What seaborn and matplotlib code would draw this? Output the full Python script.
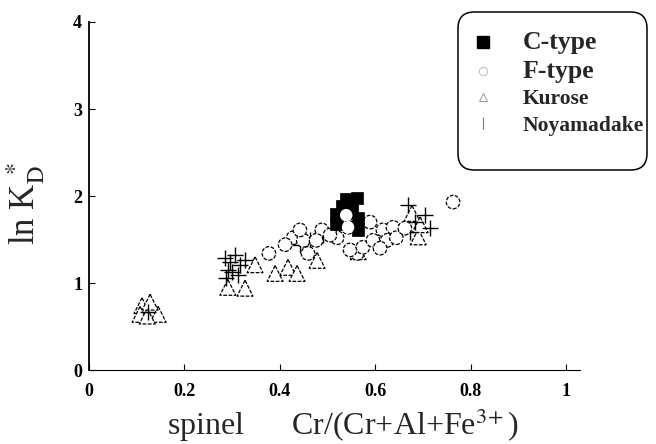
import numpy as np
import pandas as pd
import matplotlib
matplotlib.use("Agg")
import matplotlib.pyplot as plt
from matplotlib.patches import FancyBboxPatch
import seaborn as sns

# -----------------------------
# Data
# -----------------------------
ctype_x = [0.539, 0.562, 0.530, 0.551, 0.518, 0.518, 0.564, 0.564, 0.537]
ctype_y = [1.97, 1.98, 1.89, 1.89, 1.79, 1.68, 1.75, 1.61, 1.82]

ftype_x = [0.539, 0.543, 0.520, 0.562, 0.547, 0.574, 0.589, 0.595, 0.616, 0.625,
           0.637, 0.644, 0.610, 0.763, 0.377, 0.428, 0.449, 0.459, 0.488, 0.476,
           0.442, 0.505, 0.411, 0.662]
ftype_y = [1.78, 1.64, 1.52, 1.34, 1.38, 1.41, 1.70, 1.49, 1.61, 1.49,
           1.64, 1.52, 1.40, 1.93, 1.34, 1.52, 1.49, 1.34, 1.61, 1.49,
           1.61, 1.55, 1.44, 1.63]

kurose_x = [0.111, 0.132, 0.107, 0.145, 0.122, 0.128, 0.348, 0.291, 0.327, 0.390,
            0.417, 0.436, 0.478, 0.564, 0.690, 0.677, 0.694]
kurose_y = [0.74, 0.71, 0.64, 0.64, 0.62, 0.78, 1.21, 0.95, 0.94, 1.11,
            1.18, 1.11, 1.26, 1.36, 1.53, 1.80, 1.67]

noya_x = [0.285, 0.296, 0.306, 0.317, 0.300, 0.291, 0.327, 0.312, 0.287, 0.124,
          0.669, 0.683, 0.704, 0.673, 0.715, 0.442, 0.463, 0.491]
noya_y = [1.29, 1.24, 1.32, 1.21, 1.13, 1.15, 1.26, 1.09, 1.06, 0.67,
          1.90, 1.70, 1.78, 1.59, 1.63, 1.44, 1.49, 1.55]

groups = ["C-type", "F-type", "Kurose", "Noyamadake"]
x_ticks = [0, 0.2, 0.4, 0.6, 0.8, 1]
x_ticklabels = ["0", "0.2", "0.4", "0.6", "0.8", "1"]
y_ticks = [0, 1, 2, 3, 4]

df = pd.concat([
    pd.DataFrame({"x": ctype_x, "y": ctype_y, "group": "C-type"}),
    pd.DataFrame({"x": ftype_x, "y": ftype_y, "group": "F-type"}),
    pd.DataFrame({"x": kurose_x, "y": kurose_y, "group": "Kurose"}),
    pd.DataFrame({"x": noya_x, "y": noya_y, "group": "Noyamadake"}),
], ignore_index=True)

# -----------------------------
# Style
# -----------------------------
sns.set_theme(style="white")
plt.rcParams["font.family"] = ["Liberation Serif", "DejaVu Serif"]
plt.rcParams["mathtext.fontset"] = "stix"

fig = plt.figure(figsize=(6.56, 4.44), dpi=100)
ax = fig.add_axes([89 / 656, 74 / 444, 491 / 656, 348 / 444])

# draw order: open markers first, squares on top, then white circles inside squares
styles = {
    "Kurose": dict(marker="^", s=130, color="white", edgecolor="black", linewidth=0.9,
                   linestyle=(0, (3, 1.2))),
    "Noyamadake": dict(marker="+", s=130, color="black", linewidth=1.0),
    "F-type": dict(marker="o", s=95, color="white", edgecolor="black", linewidth=0.9,
                   linestyle=(0, (3, 1.2))),
    "C-type": dict(marker="s", s=80, color="black", edgecolor="black", linewidth=0.5),
}
for g in ["Kurose", "Noyamadake", "F-type", "C-type"]:
    sub = df[df["group"] == g]
    sns.scatterplot(data=sub, x="x", y="y", ax=ax, legend=False, zorder=3, **styles[g])

# the two white circles sitting inside the black squares
inner = df[(df["group"] == "F-type")].iloc[:2]
ax.scatter(inner["x"], inner["y"], s=80, c="white", edgecolors="none", zorder=5)

ax.set_xlim(0, 1.029)
ax.set_ylim(0, 4)
ax.set_xticks(x_ticks)
ax.set_xticklabels(x_ticklabels)
ax.set_yticks(y_ticks)
ax.set_xticks(np.arange(0.1, 1.0, 0.2), minor=True)
ax.set_yticks(np.arange(0.25, 4, 0.25), minor=True)
ax.tick_params(axis="both", which="major", direction="in", length=4, width=0.8,
               labelsize=13, colors="black")
ax.tick_params(axis="both", which="minor", direction="in", length=2, width=0.6)
ax.tick_params(axis="x", pad=9, bottom=True)
ax.tick_params(axis="y", pad=5, left=True)
for lab in ax.get_xticklabels() + ax.get_yticklabels():
    lab.set_fontweight("bold")

for side in ["top", "right"]:
    ax.spines[side].set_visible(False)
ax.spines["left"].set_linewidth(1.3)
ax.spines["bottom"].set_linewidth(0.8)
ax.spines["left"].set_color("black")
ax.spines["bottom"].set_color("black")

ax.set_xlabel("spinel      Cr/(Cr+Al+Fe$^{3\\!+}$)", fontsize=23)
ax.xaxis.set_label_coords(0.517, -0.105)
ax.set_ylabel(r"ln K$_{\mathrm{D}}^{\ *}$", fontsize=25)
ax.yaxis.set_label_coords(-0.086, 0.48)

# -----------------------------
# Legend (rounded frame drawn separately)
# -----------------------------
frame = FancyBboxPatch((458 / 656, 1 - 170 / 444), 189 / 656, 158 / 444,
                       boxstyle="round,pad=0,rounding_size=0.025",
                       mutation_aspect=656 / 444, transform=fig.transFigure,
                       facecolor="white", edgecolor="black", linewidth=1.1, zorder=0)
fig.patches.append(frame)

handles = [
    plt.Line2D([], [], ls="none", marker="s", ms=8, mfc="black", mec="black"),
    plt.Line2D([], [], ls="none", marker="o", ms=6, mfc="white", mec="#bbbbbb", mew=0.7),
    plt.Line2D([], [], ls="none", marker="^", ms=6, mfc="white", mec="#999999", mew=0.7),
    plt.Line2D([], [], ls="none", marker="|", ms=9, mfc="none", mec="#777777", mew=0.8),
]
leg = fig.legend(handles, groups, loc="upper left", bbox_to_anchor=(473 / 656, 1 - 31 / 444),
                 frameon=False, borderpad=0, borderaxespad=0, labelspacing=0.3,
                 handletextpad=1.4, handlelength=1.0,
                 prop={"weight": "bold", "size": 15})
for t, fs in zip(leg.get_texts(), [18.5, 18.5, 15.5, 15.5]):
    t.set_fontsize(fs)

fig.savefig("out.png", dpi=100)
